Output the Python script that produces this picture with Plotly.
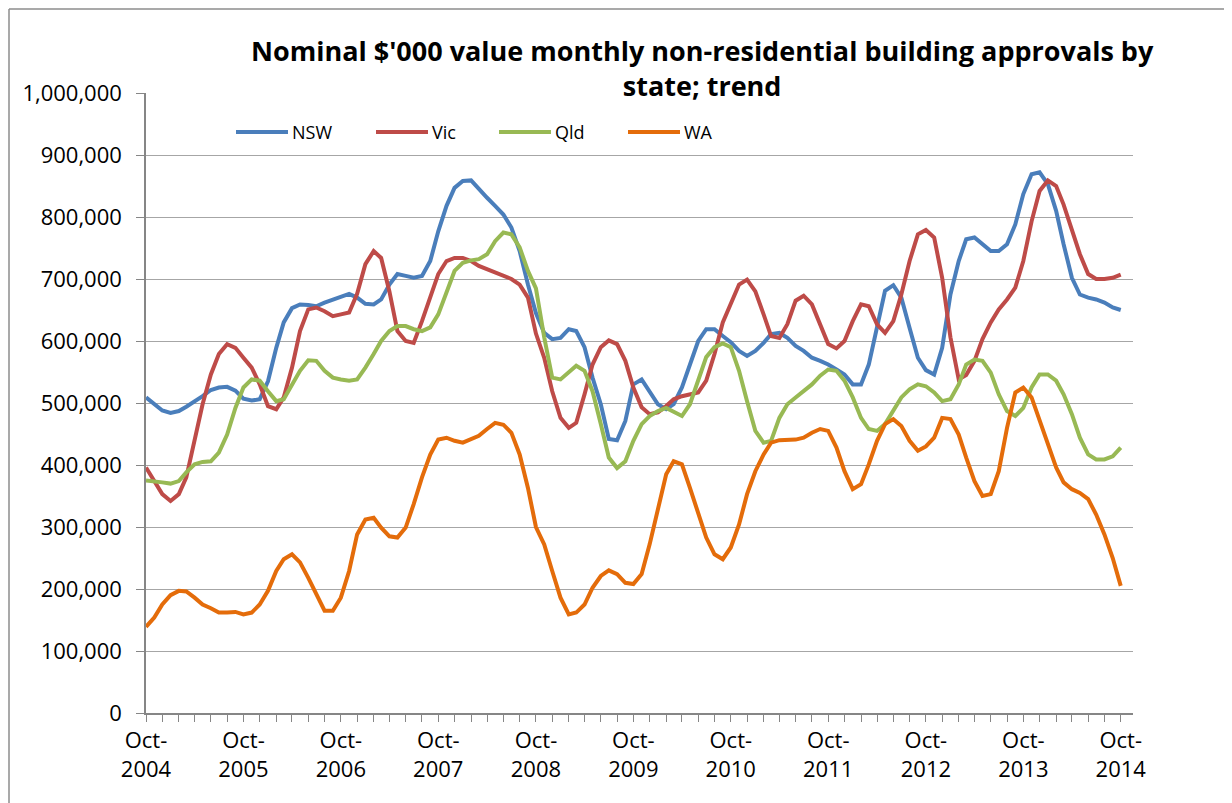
import pandas as pd
import plotly.graph_objects as go

months = pd.date_range("2004-10-01", "2014-10-01", freq="MS")

nsw = [509, 498, 488, 484, 487, 494, 502, 511, 521, 525, 526, 520, 507, 504, 506, 535, 589, 630, 653, 659, 658, 656, 662, 667,
       672, 676, 670, 660, 659, 667, 691, 708, 705, 702, 705, 729, 777, 818, 847, 858, 859, 845, 831, 818, 804, 783, 745, 691,
       645, 613, 603, 605, 619, 616, 590, 541, 498, 442, 440, 471, 530, 538, 519, 498, 490, 498, 525, 562, 600, 619, 619, 608,
       598, 584, 576, 584, 597, 611, 613, 605, 592, 584, 573, 568, 562, 554, 546, 530, 530, 562, 621, 681, 690, 670, 621, 573,
       553, 546, 589, 675, 729, 764, 767, 756, 745, 745, 756, 788, 837, 869, 872, 853, 810, 756, 702, 675, 670, 667, 662, 654, 650]
vic = [396, 374, 353, 342, 353, 380, 439, 498, 546, 579, 595, 589, 573, 557, 530, 495, 490, 509, 557, 616, 651, 654, 648, 640,
       643, 646, 676, 724, 745, 734, 680, 616, 600, 597, 632, 670, 708, 729, 734, 734, 729, 721, 716, 710, 705, 700, 691, 670,
       612, 573, 519, 476, 460, 468, 514, 562, 590, 601, 595, 568, 525, 493, 482, 485, 495, 506, 511, 514, 517, 536, 579, 630,
       660, 691, 699, 680, 643, 608, 605, 627, 665, 673, 659, 627, 595, 588, 600, 632, 659, 656, 627, 613, 632, 675, 729, 772,
       779, 767, 702, 606, 538, 545, 568, 603, 630, 651, 667, 686, 729, 793, 842, 859, 850, 820, 777, 740, 708, 700, 700, 702, 707]
qld = [375, 374, 372, 370, 374, 388, 401, 405, 406, 420, 449, 492, 525, 538, 536, 519, 503, 506, 530, 552, 569, 568, 552, 541,
       538, 536, 538, 557, 579, 600, 616, 624, 624, 619, 616, 622, 643, 681, 713, 726, 730, 732, 740, 761, 775, 772, 751, 713,
       685, 606, 541, 538, 549, 560, 552, 519, 466, 412, 395, 406, 439, 466, 479, 487, 492, 485, 479, 498, 536, 574, 590, 596,
       590, 552, 503, 455, 436, 439, 476, 498, 509, 519, 530, 544, 554, 552, 536, 509, 476, 458, 455, 466, 487, 509, 522, 530,
       527, 517, 503, 506, 530, 562, 570, 568, 549, 514, 487, 479, 492, 525, 546, 546, 536, 514, 482, 444, 417, 409, 409, 414, 428]
wa = [139, 154, 175, 190, 197, 196, 186, 175, 169, 162, 162, 163, 159, 162, 175, 197, 229, 248, 256, 243, 218, 191, 165, 165,
      186, 229, 288, 312, 315, 299, 285, 283, 299, 337, 380, 417, 441, 444, 439, 436, 441, 447, 458, 468, 465, 452, 417, 363,
      300, 272, 229, 186, 159, 162, 175, 202, 221, 230, 224, 210, 208, 224, 272, 326, 385, 406, 401, 363, 320, 283, 256, 248,
      267, 304, 353, 390, 417, 436, 440, 441, 441, 444, 452, 458, 455, 428, 390, 361, 369, 401, 439, 466, 474, 463, 439, 423,
      430, 444, 476, 474, 449, 412, 374, 350, 353, 390, 460, 517, 525, 509, 471, 433, 396, 372, 361, 355, 345, 320, 288, 250, 205]

names = ["NSW", "Vic", "Qld", "WA"]
colors = ["#4A7EBB", "#BE4B48", "#98B954", "#E46C0A"]
values = [nsw, vic, qld, wa]

tick_dates = pd.date_range("2004-10-01", "2014-10-01", freq="12MS")
tick_text = [f"Oct-<br>{d.year}" for d in tick_dates]
y_ticks = list(range(0, 1000001, 100000))

FONT = "Open Sans, sans-serif"
OFF = 8  # page body margin
W, H = 1232 - OFF, 803 - OFF
# plot area in screen pixels
SX0, SX1, SY0, SY1 = 146, 1133, 93, 713
L, R, T, B = SX0 - OFF, W - (SX1 - OFF), SY0 - OFF, H - (SY1 - OFF)
PW, PH = SX1 - SX0, SY1 - SY0


def px_x(p):
    return (p - SX0) / PW


def px_y(p):
    return (SY1 - p) / PH


fig = go.Figure()
for name, vals, col in zip(names, values, colors):
    fig.add_trace(go.Scatter(x=months, y=[v * 1000 for v in vals], name=name, mode="lines",
                             line=dict(color=col, width=4), showlegend=False))

# manual legend, laid out like the original (long line keys)
shapes = []
annotations = []
leg_x = [236, 376, 499, 628]
leg_y = px_y(132)
for name, col, lx in zip(names, colors, leg_x):
    shapes.append(dict(type="line", xref="paper", yref="paper", x0=px_x(lx), x1=px_x(lx + 52),
                       y0=leg_y, y1=leg_y, line=dict(color=col, width=4)))
    annotations.append(dict(text=name, x=px_x(lx + 54), y=leg_y, xref="paper", yref="paper",
                            showarrow=False, xanchor="left", yanchor="middle",
                            font=dict(size=18, family=FONT, color="black")))

annotations.append(dict(text="<b>Nominal $'000 value monthly non-residential building approvals by<br>state; trend</b>",
                        x=px_x(702), y=px_y(68), xref="paper", yref="paper", showarrow=False,
                        xanchor="center", yanchor="middle", font=dict(size=27, family=FONT, color="black")))

# chart-area border
shapes.append(dict(type="line", xref="paper", yref="paper", x0=px_x(9), x1=px_x(9), y0=px_y(820), y1=px_y(9),
                   line=dict(color="#8c8c8c", width=1.5)))
shapes.append(dict(type="line", xref="paper", yref="paper", x0=px_x(9), x1=px_x(1260), y0=px_y(9), y1=px_y(9),
                   line=dict(color="#8c8c8c", width=1.5)))

fig.update_layout(
    width=W, height=H,
    margin=dict(l=L, r=R, t=T, b=B, autoexpand=False),
    paper_bgcolor="white", plot_bgcolor="white",
    font=dict(family=FONT, color="black", size=20),
    showlegend=False,
    annotations=annotations,
    shapes=shapes,
)
fig.update_xaxes(type="date", range=["2004-10-01", "2014-11-16"], automargin=False,
                 tickvals=tick_dates, ticktext=tick_text, tickangle=0,
                 ticks="outside", ticklen=7, tickcolor="#868686",
                 showline=True, linecolor="#868686", linewidth=1.5,
                 showgrid=False, zeroline=False,
                 minor=dict(dtick="M2", tick0="2004-10-01", ticks="outside", ticklen=7, tickcolor="#868686", showgrid=False),
                 tickfont=dict(size=22))
fig.update_yaxes(range=[0, 1000000], tickvals=y_ticks, tickformat=",", automargin=False,
                 ticks="outside", ticklen=8, tickcolor="#868686", ticklabelstandoff=10,
                 showline=True, linecolor="#868686", linewidth=1.5,
                 showgrid=True, gridcolor="#a6a6a6", gridwidth=1.3, zeroline=False,
                 tickfont=dict(size=22))

fig.write_html("out.html")
